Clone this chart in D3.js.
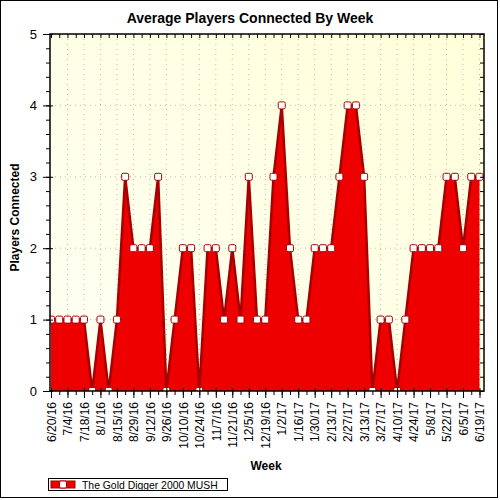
<!DOCTYPE html>
<html>
<head>
<meta charset="utf-8">
<script src="https://cdn.jsdelivr.net/npm/d3@7"></script>
<style>
  html, body { margin: 0; padding: 0; background: #fff; }
  svg text { font-family: 'Liberation Sans', Arial, sans-serif; }
</style>
</head>
<body>
<script>
const w = 500;
const h = 500;

// weekly samples
const weeks = [
  '6/20/16', '6/27/16', '7/4/16', '7/11/16', '7/18/16', '7/25/16', '8/1/16', '8/8/16',
  '8/15/16', '8/22/16', '8/29/16', '9/5/16', '9/12/16', '9/19/16', '9/26/16', '10/3/16',
  '10/10/16', '10/17/16', '10/24/16', '10/31/16', '11/7/16', '11/14/16', '11/21/16', '11/28/16',
  '12/5/16', '12/12/16', '12/19/16', '12/26/16', '1/2/17', '1/9/17', '1/16/17', '1/23/17',
  '1/30/17', '2/6/17', '2/13/17', '2/20/17', '2/27/17', '3/6/17', '3/13/17', '3/20/17',
  '3/27/17', '4/3/17', '4/10/17', '4/17/17', '4/24/17', '5/1/17', '5/8/17', '5/15/17',
  '5/22/17', '5/29/17', '6/5/17', '6/12/17', '6/19/17'
];
const players = [
  1, 1, 1, 1, 1, 0, 1, 0, 1, 3, 2, 2, 2, 3, 0, 1, 2, 2, 0, 2, 2, 1, 2, 1, 3, 1, 1,
  3, 4, 2, 1, 1, 2, 2, 2, 3, 4, 4, 3, 0, 1, 1, 0, 1, 2, 2, 2, 2, 3, 3, 2, 3, 3
];
const tickLabels = [
  '6/20/16', '7/4/16', '7/18/16', '8/1/16', '8/15/16', '8/29/16', '9/12/16', '9/26/16',
  '10/10/16', '10/24/16', '11/7/16', '11/21/16', '12/5/16', '12/19/16', '1/2/17', '1/16/17',
  '1/30/17', '2/13/17', '2/27/17', '3/13/17', '3/27/17', '4/10/17', '4/24/17', '5/8/17',
  '5/22/17', '6/5/17', '6/19/17'
];
const yTicks = [0, 1, 2, 3, 4, 5];
const seriesName = 'The Gold Digger 2000 MUSH';

const parse = d3.timeParse('%m/%d/%y');
const data = weeks.map((d, i) => ({ date: parse(d), value: players[i] }));

const plot = { left: 50, right: 484, top: 34, bottom: 391 };

const svg = d3.select('body').append('svg').attr('width', w).attr('height', h);

// outer frame
svg.append('rect')
  .attr('x', 0.5).attr('y', 0.5)
  .attr('width', w - 3).attr('height', h - 3)
  .attr('fill', '#fff').attr('stroke', '#000');

const defs = svg.append('defs');
const grad = defs.append('linearGradient')
  .attr('id', 'bg').attr('x1', '0%').attr('y1', '100%').attr('x2', '100%').attr('y2', '0%');
grad.append('stop').attr('offset', '0%').attr('stop-color', '#fffff4');
grad.append('stop').attr('offset', '100%').attr('stop-color', '#ffffd9');

const xScale = d3.scaleTime()
  .domain([parse('6/20/16'), parse('6/19/17')])
  .range([51, 479.5]);

const yScale = d3.scaleLinear()
  .domain([0, 5])
  .range([plot.bottom, plot.top]);

svg.append('rect')
  .attr('x', plot.left).attr('y', plot.top)
  .attr('width', plot.right - plot.left).attr('height', plot.bottom - plot.top)
  .attr('fill', 'url(#bg)');

// dotted grid
const tickDates = tickLabels.map(parse);
svg.append('g').selectAll('line.vg')
  .data(tickDates.slice(1))
  .join('line')
  .attr('x1', (d) => xScale(d)).attr('x2', (d) => xScale(d))
  .attr('y1', plot.top).attr('y2', plot.bottom)
  .attr('stroke', '#bbb').attr('stroke-dasharray', '1,4');
svg.append('g').selectAll('line.hg')
  .data(yTicks.slice(1, -1))
  .join('line')
  .attr('x1', plot.left).attr('x2', plot.right)
  .attr('y1', (d) => yScale(d)).attr('y2', (d) => yScale(d))
  .attr('stroke', '#bbb').attr('stroke-dasharray', '1,4');

// area + outline
const area = d3.area()
  .x((d) => xScale(d.date))
  .y0(plot.bottom)
  .y1((d) => yScale(d.value));
const line = d3.line()
  .x((d) => xScale(d.date))
  .y((d) => yScale(d.value));

const clip = defs.append('clipPath').attr('id', 'plotclip');
clip.append('rect')
  .attr('x', plot.left).attr('y', plot.top - 6)
  .attr('width', plot.right - plot.left).attr('height', plot.bottom - plot.top + 6);

const series = svg.append('g').attr('clip-path', 'url(#plotclip)');
series.append('path')
  .datum(data)
  .attr('d', area)
  .attr('fill', '#ee0000');
series.append('path')
  .datum(data)
  .attr('d', line)
  .attr('fill', 'none')
  .attr('stroke', '#a80000')
  .attr('stroke-width', 2.5);

series.selectAll('rect.marker')
  .data(data)
  .join('rect')
  .attr('class', 'marker')
  .attr('x', (d) => xScale(d.date) - 3.5)
  .attr('y', (d) => yScale(d.value) - 3.5)
  .attr('width', 7).attr('height', 7)
  .attr('rx', 1.5)
  .attr('fill', '#fff')
  .attr('stroke', '#a80000')
  .attr('stroke-width', 1);

// axes
const weekTicks = data.map((d) => d.date);
const xAxisMinor = d3.axisBottom(xScale).tickValues(weekTicks).tickSize(4).tickFormat('');
const xAxis = d3.axisBottom(xScale)
  .tickValues(tickDates)
  .tickSize(7)
  .tickFormat(d3.timeFormat('%-m/%-d/%y'));

svg.append('g')
  .attr('transform', `translate(0,${plot.bottom})`)
  .call(xAxisMinor)
  .call((g) => g.select('.domain').remove());

const gx = svg.append('g')
  .attr('id', 'x-axis')
  .attr('transform', `translate(0,${plot.bottom})`)
  .call(xAxis);
gx.select('.domain').remove();
gx.selectAll('.tick line').attr('y1', -3);
gx.selectAll('.tick text')
  .attr('transform', 'rotate(-90)')
  .attr('text-anchor', 'end')
  .attr('x', -11)
  .attr('y', 0)
  .attr('dy', '0.35em')
  .attr('font-size', 12)
  .attr('fill', '#000');

// top axis ticks (inside)
svg.append('g')
  .attr('transform', `translate(0,${plot.top})`)
  .call(d3.axisTop(xScale).tickValues(weekTicks).tickSize(-4).tickFormat(''))
  .call((g) => g.select('.domain').remove());

const minorY = d3.range(0, 5.001, 0.2).map((v) => +v.toFixed(1));
svg.append('g')
  .attr('transform', `translate(${plot.left},0)`)
  .call(d3.axisLeft(yScale).tickValues(minorY).tickSize(4).tickFormat(''))
  .call((g) => g.select('.domain').remove());

const gy = svg.append('g')
  .attr('id', 'y-axis')
  .attr('transform', `translate(${plot.left},0)`)
  .call(d3.axisLeft(yScale).tickValues(yTicks).tickSize(7).tickFormat(d3.format('d')));
gy.select('.domain').remove();
gy.selectAll('.tick line').attr('x1', 3);
gy.selectAll('.tick text')
  .attr('x', -13)
  .attr('font-size', 13)
  .attr('fill', '#000');

svg.append('g')
  .attr('transform', `translate(${plot.right},0)`)
  .call(d3.axisRight(yScale).tickValues(minorY).tickSize(-4).tickFormat(''))
  .call((g) => g.select('.domain').remove());

// frame lines
svg.append('rect')
  .attr('x', plot.left).attr('y', plot.top)
  .attr('width', plot.right - plot.left).attr('height', plot.bottom - plot.top)
  .attr('fill', 'none').attr('stroke', '#000').attr('stroke-width', 1.5);

// titles
svg.append('text')
  .attr('x', 250).attr('y', 23)
  .attr('text-anchor', 'middle')
  .attr('font-size', 14).attr('font-weight', 'bold')
  .text('Average Players Connected By Week');

svg.append('text')
  .attr('transform', `translate(19,${(plot.top + plot.bottom) / 2 + 5}) rotate(-90)`)
  .attr('text-anchor', 'middle')
  .attr('font-size', 12).attr('font-weight', 'bold')
  .text('Players Connected');

svg.append('text')
  .attr('x', 266).attr('y', 470)
  .attr('text-anchor', 'middle')
  .attr('font-size', 12).attr('font-weight', 'bold')
  .text('Week');

// legend
const legend = svg.append('g').attr('id', 'legend');
legend.append('rect')
  .attr('x', 48.5).attr('y', 478.5)
  .attr('width', 179).attr('height', 12)
  .attr('fill', '#fff').attr('stroke', '#000');
legend.append('rect')
  .attr('x', 51).attr('y', 481)
  .attr('width', 24).attr('height', 7)
  .attr('fill', '#ee0000').attr('stroke', '#a80000');
legend.append('rect')
  .attr('x', 59.5).attr('y', 481)
  .attr('width', 7).attr('height', 7)
  .attr('rx', 1.5)
  .attr('fill', '#fff').attr('stroke', '#a80000');
legend.append('text')
  .attr('x', 82).attr('y', 488.5)
  .attr('font-size', 10.4)
  .text(seriesName);
</script>
</body>
</html>
